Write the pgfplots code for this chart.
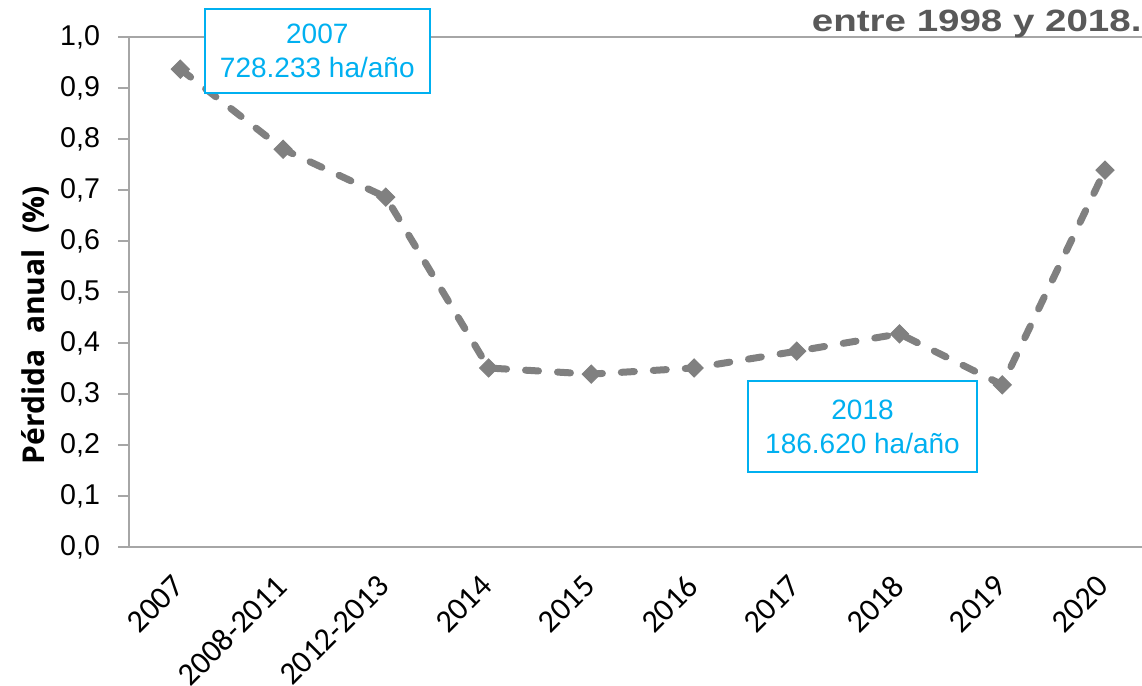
\documentclass[border=0pt]{standalone}
\usepackage{fontspec}
\setmainfont{Liberation Sans}
\newfontfamily\carlito{Carlito}
\newfontfamily\opensans{Open Sans}
\usepackage{pgfplots}
\pgfplotsset{compat=1.18}
\definecolor{linegray}{HTML}{808080}
\definecolor{axisgray}{HTML}{A6A6A6}
\definecolor{boxcyan}{HTML}{00B0F0}
\definecolor{titlegray}{HTML}{595959}
\begin{document}
\begin{tikzpicture}
\begin{axis}[
  scale only axis,
  anchor=south west, at={(0,0)},
  width=506.5pt, height=255pt,
  xmin=-0.5, xmax=9.36,
  ymin=0, ymax=1,
  clip=false,
  axis lines*=left,
  axis line style={axisgray, line width=0.8pt},
  every tick/.style={axisgray, line width=0.8pt},
  tick align=outside,
  xtick={0,...,9},
  xticklabels={2007,2008-2011,2012-2013,2014,2015,2016,2017,2018,2019,2020},
  x tick label style={font=\carlito\fontsize{16}{18}\selectfont, rotate=45, anchor=north east, inner sep=1pt, yshift=-1pt, xshift=-7.6pt},
  major x tick style={draw=none},
  extra x ticks={-0.5,0.5,...,8.5},
  extra x tick labels={},
  extra x tick style={major tick length=4.5pt, tick style={axisgray, line width=0.8pt}},
  ytick={0,0.1,...,1.0},
  major tick length=5.5pt,
  y tick label style={font=\fontsize{14.3}{16}\selectfont, xshift=-5.5pt},
  yticklabel style={/pgf/number format/.cd, fixed, fixed zerofill, precision=1, use comma, assume math mode=true},
  ylabel={\opensans\bfseries Pérdida\ \ anual\ \ (\%)},
  ylabel style={font=\fontsize{15}{17}\selectfont, at={(axis description cs:-0.0928,0.435)}, anchor=center},
]
\draw[axisgray, line width=0.8pt] (rel axis cs:0,1) -- (rel axis cs:1,1);
\addplot[linegray, line width=3.5pt, dash pattern=on 6.5pt off 9.5pt, line cap=round,
  mark=square*, mark size=3.2pt, mark options={solid, rotate=45, fill=linegray, draw=linegray, line width=0.5pt}]
  coordinates {
  (0,0.937) (1,0.780) (2,0.686) (3,0.351) (4,0.339) (5,0.351) (6,0.384) (7,0.418) (8,0.318) (9,0.739)
  };
\node[draw=boxcyan, fill=white, line width=0.8pt, text=boxcyan, align=center,
  minimum width=112.5pt, minimum height=42pt, font=\fontsize{14}{17}\selectfont]
  at (axis cs:1.333,0.9725) {2007\\728.233 ha/año};
\node[draw=boxcyan, fill=white, line width=0.8pt, text=boxcyan, align=center,
  minimum width=114.5pt, minimum height=45.5pt, font=\fontsize{14}{17}\selectfont]
  at (axis cs:6.64,0.236) {2018\\186.620 ha/año};
\node[anchor=base east, text=titlegray, font=\bfseries\fontsize{15.4}{17}\selectfont, inner sep=0pt]
  at ([yshift=2.5pt]rel axis cs:1,1) {\scalebox{1.25}[1]{entre 1998 y 2018.}};
\end{axis}
\pgfresetboundingbox
\path[use as bounding box] (-64.5pt,-69.5pt) rectangle (506.5pt,273.5pt);
\end{tikzpicture}
\end{document}
